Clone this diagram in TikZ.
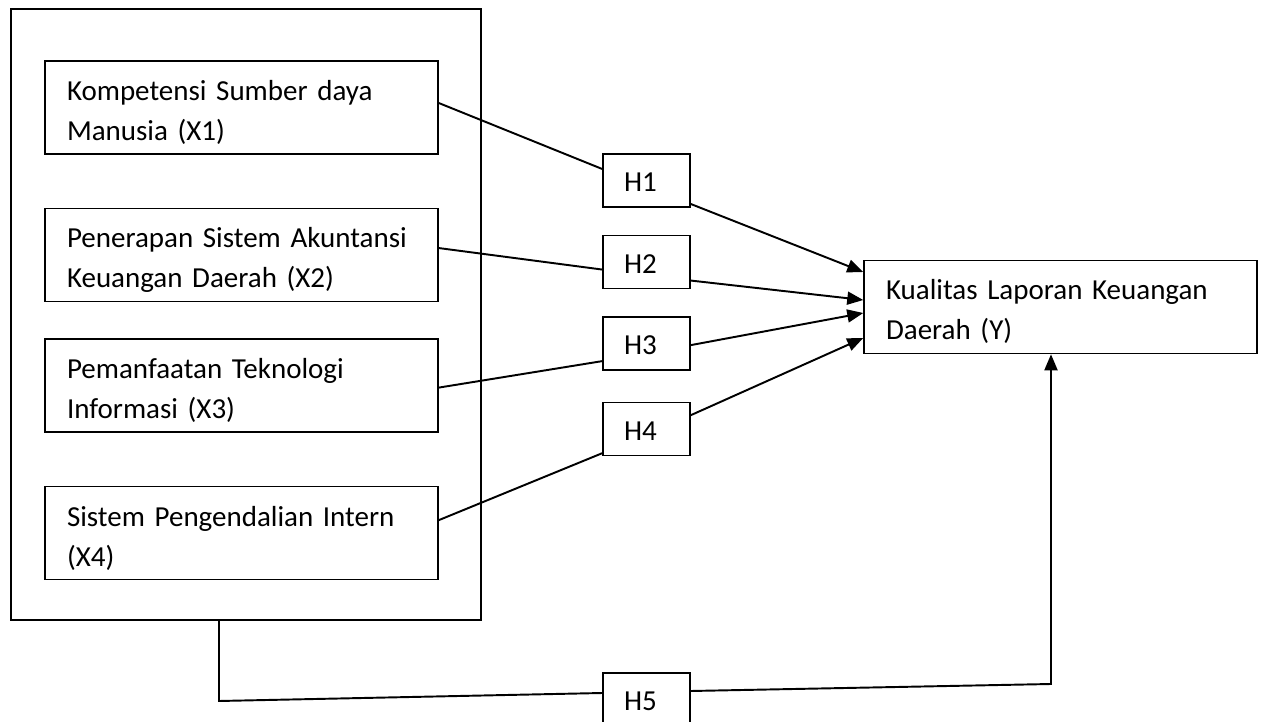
\documentclass[tikz,border=0pt]{standalone}
\usepackage{fontspec}
\setmainfont{Carlito}
\usetikzlibrary{arrows.meta, positioning}

\begin{document}
\begin{tikzpicture}[x=0.02cm, y=-0.02cm,
        var/.style={rectangle, draw, line width=0.9pt, text width=6.98cm, inner xsep=0.44cm, align=left, text height=17pt, minimum height=1.86cm, font=\fontsize{16.5}{22.8}\selectfont},
        hyp/.style={rectangle, draw, line width=0.9pt, text width=0.9cm, inner xsep=0.42cm, align=left, text height=13pt, minimum height=1.06cm, font=\fontsize{16.5}{22.8}\selectfont},
        line/.style={draw, line width=1.1pt},
        arrow/.style={line, -{Triangle[length=0.32cm, width=0.26cm]}}]

        \clip (0,0) rectangle (1264,722);

        % Nodes
        \node [draw, line width=0.9pt, minimum width=9.4cm, minimum height=12.22cm] (vars) at (246,314.5) {};
        \node [var] (x1) at (241.5,107.5) {Kompetensi Sumber daya\\ Manusia (X1)};
        \node [var, below=1.06cm of x1] (x2) {Penerapan Sistem Akuntansi\\ Keuangan Daerah (X2)};
        \node [var, below=0.72cm of x2] (x3) {Pemanfaatan Teknologi\\ Informasi (X3)};
        \node [var, below=1.06cm of x3] (x4) {Sistem Pengendalian Intern\\ (X4)};
        \node [var] (y) at (1060.5,307) {Kualitas Laporan Keuangan\\ Daerah (Y)};

        % Hypotheses
        \node [hyp] (h1) at (646.5,180.5) {H1};
        \node [hyp, below=0.54cm of h1] (h2) {H2};
        \node [hyp, below=0.54cm of h2] (h3) {H3};
        \node [hyp, below=0.62cm of h3] (h4) {H4};
        \node [hyp] (h5) at (646.5,699.5) {H5};

        \coordinate (bend) at (219,701);
        \coordinate (corner) at (1051,684);

        % Paths
        \path [line] ([yshift=0.09cm]x1.east) -- ([yshift=0.23cm]h1.west);
        \path [line] ([yshift=0.14cm]x2.east) -- ([yshift=-0.15cm]h2.west);
        \path [line] ([yshift=-0.04cm]x3.east) -- ([yshift=-0.35cm]h3.west);
        \path [line] ([yshift=0.26cm]x4.east) -- ([yshift=-0.48cm]h4.west);
        \path [arrow] ([yshift=-0.47cm]h1.east) -- ([yshift=0.70cm]y.west);
        \path [arrow] ([yshift=-0.37cm]h2.east) -- ([yshift=0.14cm]y.west);
        \path [arrow] ([yshift=-0.03cm]h3.east) -- ([yshift=-0.12cm]y.west);
        \path [arrow] ([yshift=0.28cm]h4.east) -- ([yshift=-0.62cm]y.west);

        % Joint effect
        \path [line] (vars.south -| bend) -- (bend) -- ([yshift=0.13cm]h5.west);
        \path [arrow] ([yshift=0.17cm]h5.east) -- (corner) -- (y.south -| corner);

    \end{tikzpicture}
\end{document}
